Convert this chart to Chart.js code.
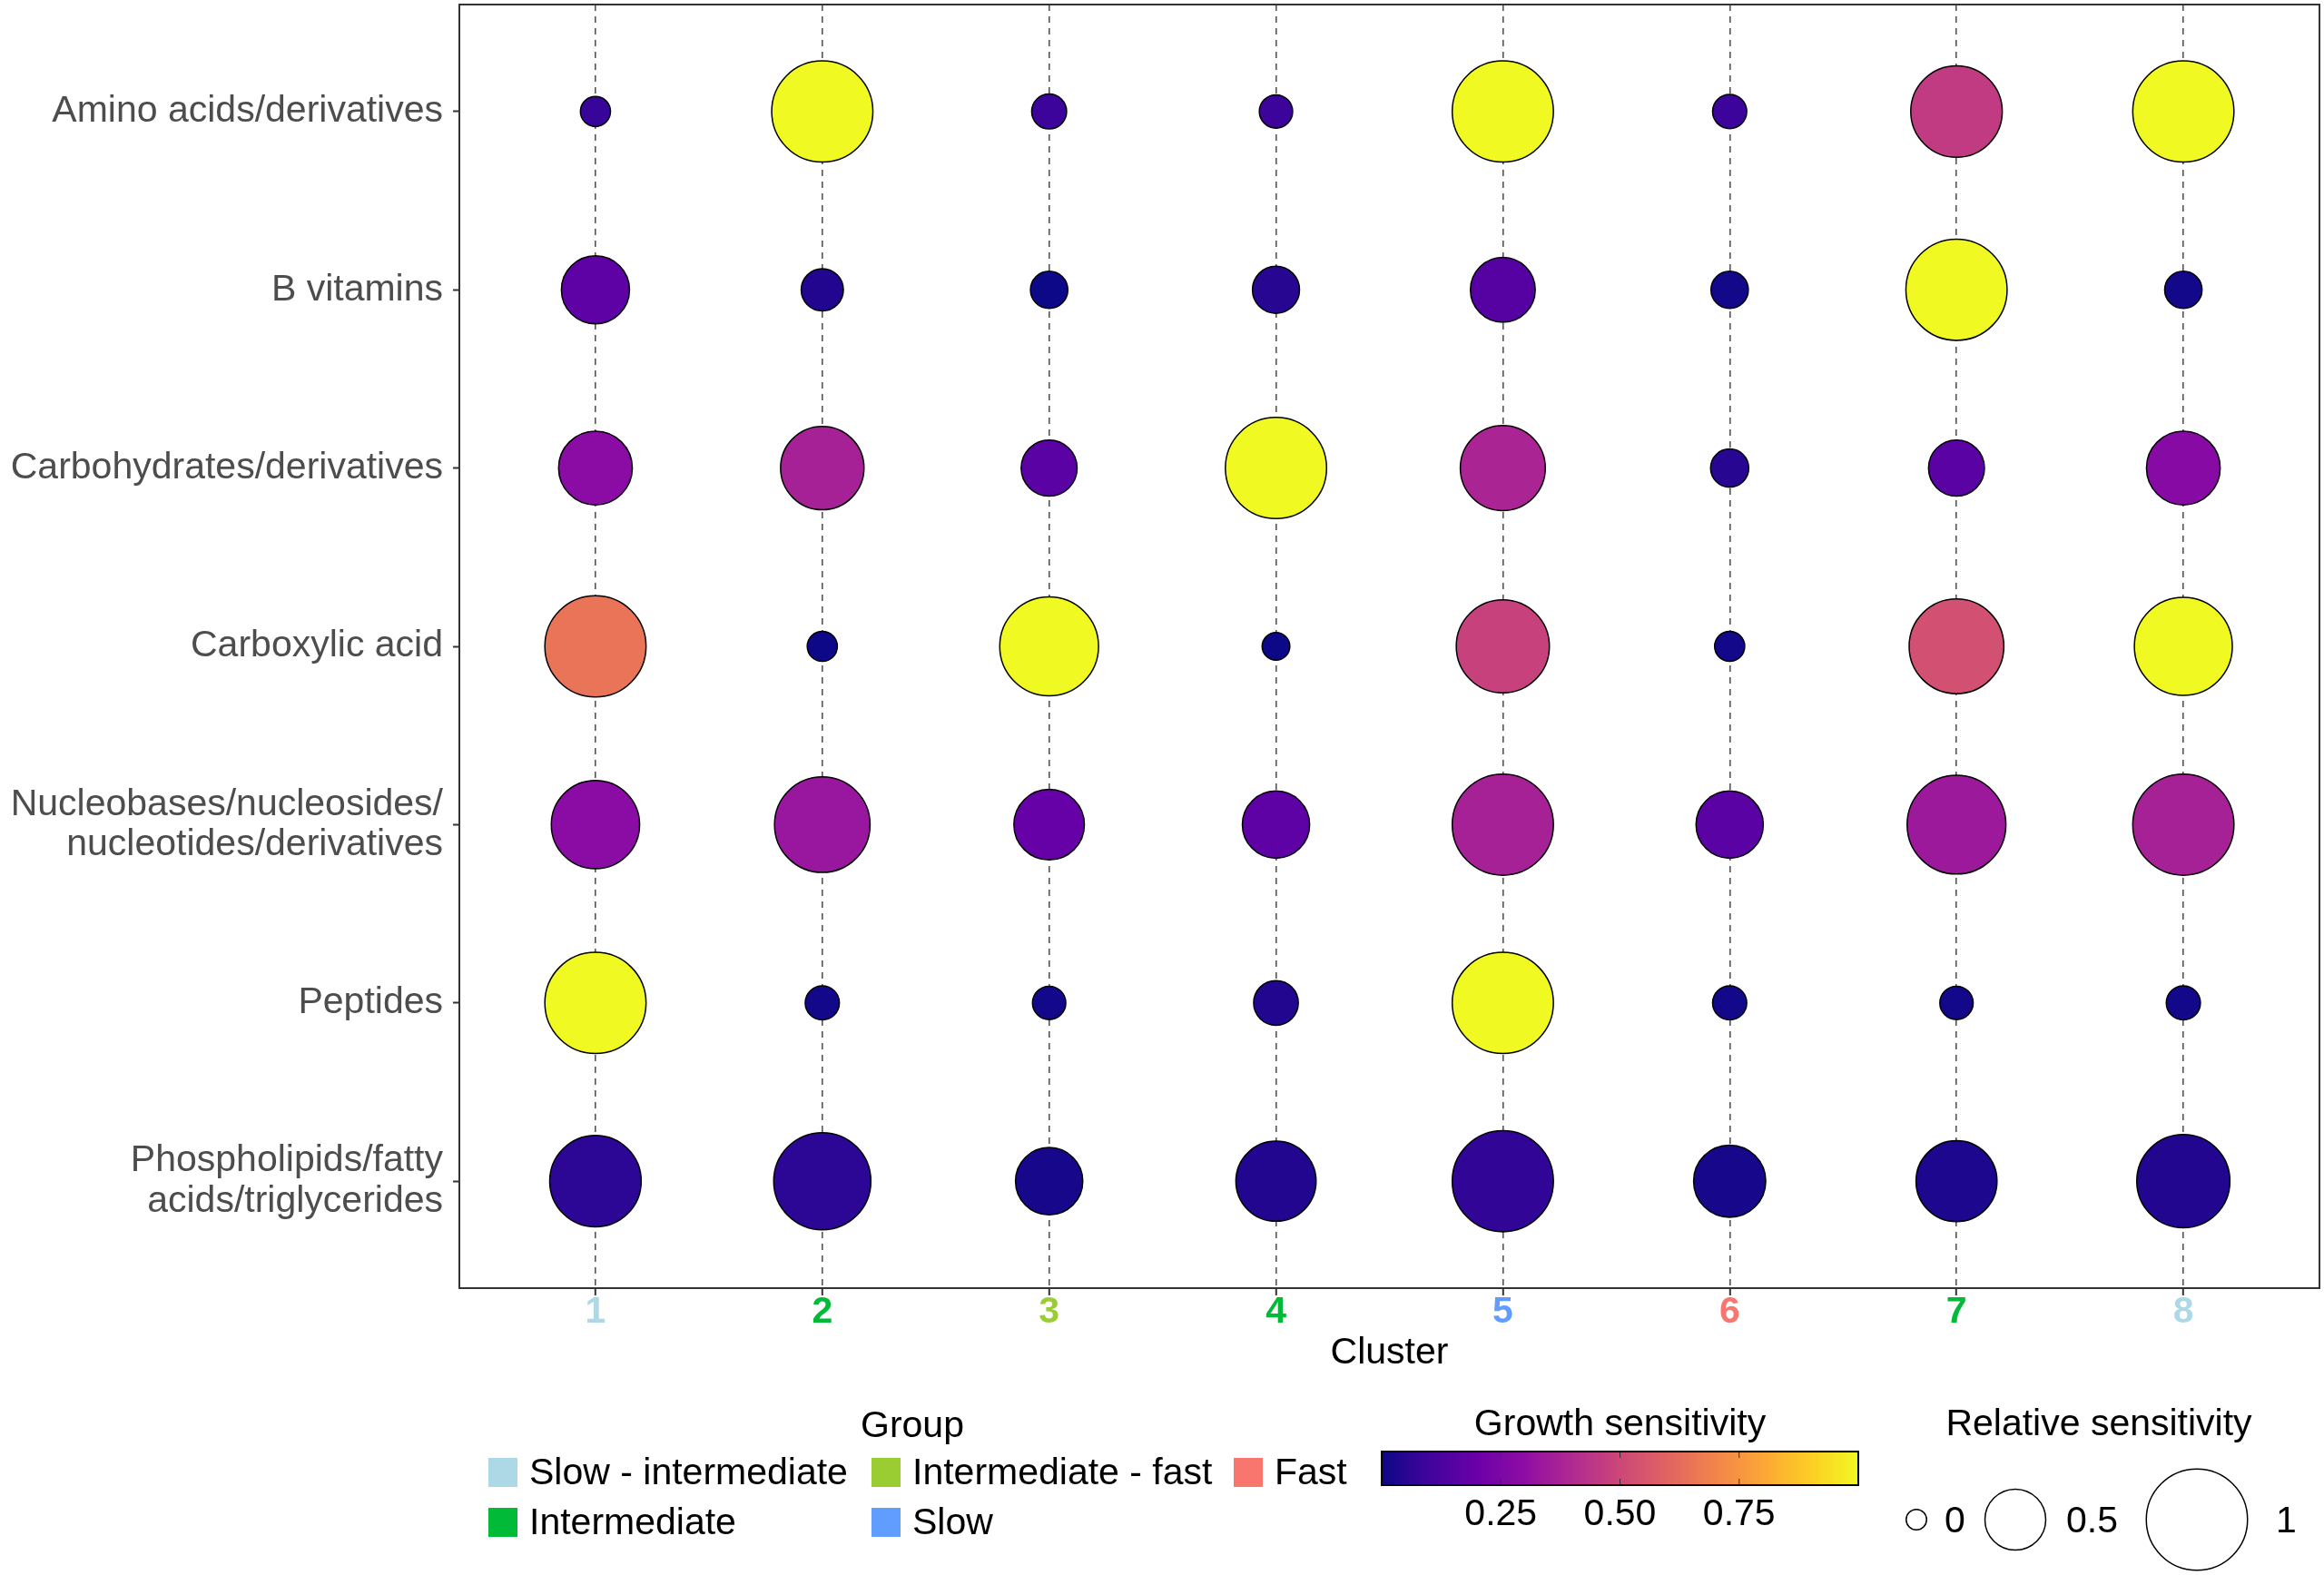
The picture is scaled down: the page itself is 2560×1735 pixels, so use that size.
<!DOCTYPE html>
<html>
<head>
<meta charset="utf-8">
<title>Growth sensitivity by cluster</title>
<script src="https://cdn.jsdelivr.net/npm/chart.js@4.4.1/dist/chart.umd.min.js"></script>
<style>
  html, body { margin: 0; padding: 0; background: #fff; }
</style>
</head>
<body>
<canvas id="bubbleChart" width="2560" height="1735"></canvas>
<script>
// ---- data (rows top to bottom, columns = clusters 1..8) ----
const categories = [
    'Amino acids/derivatives',
    'B vitamins',
    'Carbohydrates/derivatives',
    'Carboxylic acid',
    ['Nucleobases/nucleosides/', 'nucleotides/derivatives'],
    'Peptides',
    ['Phospholipids/fatty', 'acids/triglycerides']
];
const clusters = ['1', '2', '3', '4', '5', '6', '7', '8'];
const clusterGroups = ['Slow - intermediate', 'Intermediate', 'Intermediate - fast', 'Intermediate',
    'Slow', 'Fast', 'Intermediate', 'Slow - intermediate'];

// group legend, level order (filled column by column, 2 rows)
const groupNames = ['Slow - intermediate', 'Intermediate', 'Intermediate - fast', 'Slow', 'Fast'];
const groupColors = ['#ADD8E6', '#00BA38', '#9ACD32', '#619CFF', '#F8766D'];

// relative sensitivity -> bubble size
const relAmino   = [0.12, 1.00, 0.18, 0.16, 1.00, 0.17, 0.88, 1.00];
const relBvit    = [0.59, 0.27, 0.21, 0.33, 0.55, 0.21, 1.00, 0.21];
const relCarbo   = [0.66, 0.78, 0.44, 1.00, 0.80, 0.22, 0.44, 0.66];
const relCarbox  = [1.00, 0.12, 0.97, 0.09, 0.90, 0.12, 0.92, 0.96];
const relNucleo  = [0.84, 0.93, 0.62, 0.58, 1.00, 0.58, 0.97, 1.00];
const relPeptide = [1.00, 0.17, 0.16, 0.30, 1.00, 0.17, 0.16, 0.17];
const relPhospho = [0.88, 0.95, 0.58, 0.74, 1.00, 0.64, 0.75, 0.90];

// growth sensitivity -> bubble colour
const grAmino   = [0.08, 1.00, 0.09, 0.09, 1.00, 0.09, 0.46, 1.00];
const grBvit    = [0.17, 0.04, 0.00, 0.05, 0.15, 0.01, 1.00, 0.01];
const grCarbo   = [0.29, 0.37, 0.16, 1.00, 0.38, 0.05, 0.16, 0.28];
const grCarbox  = [0.65, 0.00, 1.00, 0.00, 0.48, 0.01, 0.53, 1.00];
const grNucleo  = [0.29, 0.33, 0.19, 0.17, 0.37, 0.16, 0.34, 0.37];
const grPeptide = [1.00, 0.01, 0.01, 0.04, 1.00, 0.01, 0.01, 0.01];
const grPhospho = [0.06, 0.06, 0.02, 0.04, 0.07, 0.02, 0.03, 0.04];

const relativeSensitivity = [relAmino, relBvit, relCarbo, relCarbox, relNucleo, relPeptide, relPhospho];
const growthSensitivity = [grAmino, grBvit, grCarbo, grCarbox, grNucleo, grPeptide, grPhospho];

const colorbarTicks = [0.25, 0.5, 0.75];
const sizeBreaks = [0, 0.5, 1];
const sizeBreakLabels = ['0', '0.5', '1'];

// ---- helpers ----
const FONT = '"Liberation Sans", Arial, Helvetica, sans-serif';
Chart.defaults.font.family = FONT;

const plasma = ['#0d0887', '#41049d', '#6a00a8', '#8f0da4', '#b12a90', '#cc4778',
    '#e16462', '#f2844b', '#fca636', '#fcce25', '#f0f921'];

function hexToRgb(h) {
    return [parseInt(h.slice(1, 3), 16), parseInt(h.slice(3, 5), 16), parseInt(h.slice(5, 7), 16)];
}

function plasmaColor(v) {
    v = Math.max(0, Math.min(1, v));
    const pos = v * (plasma.length - 1);
    const i = Math.min(Math.floor(pos), plasma.length - 2);
    const t = pos - i;
    const a = hexToRgb(plasma[i]), b = hexToRgb(plasma[i + 1]);
    const c = a.map((x, k) => Math.round(x + (b[k] - x) * t));
    return `rgb(${c[0]}, ${c[1]}, ${c[2]})`;
}

function sizeToRadius(v) {
    return 11.25 + 44.5 * v;
}

const points = [];
categories.forEach((cat, row) => {
    clusters.forEach((cl, col) => {
        points.push({
            x: col + 1,
            y: row + 1,
            size: relativeSensitivity[row][col],
            growth: growthSensitivity[row][col]
        });
    });
});

// ---- panel border + legends ----
const panelAndLegends = {
    id: 'panelAndLegends',
    afterDraw(chart) {
        const ctx = chart.ctx;
        const area = chart.chartArea;
        ctx.save();
        ctx.strokeStyle = '#333';
        ctx.lineWidth = 2;
        ctx.strokeRect(area.left, area.top, area.right - area.left, area.bottom - area.top);

        ctx.fillStyle = '#000';
        ctx.font = `41px ${FONT}`;
        ctx.textBaseline = 'middle';

        // Group legend
        ctx.textAlign = 'center';
        ctx.fillText('Group', 1005, 1572);
        const colX = [538, 960, 1359];
        const rowY = [1622, 1677];
        ctx.textAlign = 'left';
        groupNames.forEach((name, i) => {
            const c = Math.floor(i / 2), r = i % 2;
            ctx.fillStyle = groupColors[i];
            ctx.fillRect(colX[c], rowY[r] - 16, 32, 32);
            ctx.fillStyle = '#000';
            ctx.fillText(name, colX[c] + 45, rowY[r] + 2);
        });

        // Growth sensitivity colour bar
        const barL = 1522, barR = 2047, barT = 1599, barB = 1636;
        ctx.textAlign = 'center';
        ctx.fillText('Growth sensitivity', (barL + barR) / 2, 1570);
        const grad = ctx.createLinearGradient(barL, 0, barR, 0);
        for (let k = 0; k <= 50; k++) grad.addColorStop(k / 50, plasmaColor(k / 50));
        ctx.fillStyle = grad;
        ctx.fillRect(barL, barT, barR - barL, barB - barT);
        ctx.strokeStyle = '#333';
        ctx.lineWidth = 1;
        colorbarTicks.forEach(t => {
            const x = barL + t * (barR - barL);
            ctx.beginPath();
            ctx.moveTo(x, barT); ctx.lineTo(x, barT + 7);
            ctx.moveTo(x, barB); ctx.lineTo(x, barB - 7);
            ctx.stroke();
        });
        ctx.strokeStyle = '#000';
        ctx.lineWidth = 2;
        ctx.strokeRect(barL, barT, barR - barL, barB - barT);
        ctx.fillStyle = '#000';
        colorbarTicks.forEach(t => {
            ctx.fillText(t.toFixed(2), barL + t * (barR - barL), 1669);
        });

        // Relative sensitivity size legend
        ctx.fillText('Relative sensitivity', 2312, 1570);
        const circX = [2111, 2220, 2420];
        const labX = [2142, 2276, 2507];
        ctx.textAlign = 'left';
        sizeBreaks.forEach((s, i) => {
            ctx.beginPath();
            ctx.arc(circX[i], 1674, sizeToRadius(s), 0, Math.PI * 2);
            ctx.fillStyle = '#fff';
            ctx.fill();
            ctx.strokeStyle = '#000';
            ctx.lineWidth = 1.5;
            ctx.stroke();
            ctx.fillStyle = '#000';
            ctx.fillText(sizeBreakLabels[i], labX[i], 1677);
        });
        ctx.restore();
    }
};

const ctx = document.getElementById('bubbleChart');
new Chart(ctx, {
    type: 'bubble',
    data: {
        datasets: [{
            label: 'Growth sensitivity',
            data: points,
            radius: c => sizeToRadius(c.raw.size),
            backgroundColor: c => plasmaColor(c.raw.growth),
            borderColor: '#000',
            borderWidth: 1.5
        }]
    },
    options: {
        responsive: false,
        animation: false,
        events: [],
        layout: { autoPadding: false, padding: { left: 0, top: 5, right: 5, bottom: 220 } },
        plugins: {
            legend: { display: false },
            tooltip: { enabled: false }
        },
        scales: {
            x: {
                type: 'linear',
                position: 'bottom',
                min: 0.4,
                max: 8.6,
                afterBuildTicks: scale => {
                    scale.ticks = clusters.map((c, i) => ({ value: i + 1 }));
                },
                afterFit: scale => {
                    scale.height = 96;
                    scale.paddingLeft = 0;
                    scale.paddingRight = 0;
                },
                ticks: {
                    autoSkip: false,
                    maxRotation: 0,
                    padding: -2,
                    font: { size: 41, weight: 'bold', lineHeight: 1 },
                    color: c => {
                        const g = clusterGroups[c.index];
                        return groupColors[groupNames.indexOf(g)];
                    },
                    callback: v => clusters[v - 1]
                },
                grid: {
                    color: '#555',
                    lineWidth: 1.6,
                    drawTicks: true,
                    tickLength: 8,
                    tickColor: '#333',
                    tickWidth: 2,
                    tickBorderDash: []
                },
                border: { display: false, dash: [7, 6] },
                title: {
                    display: true,
                    text: 'Cluster',
                    color: '#000',
                    font: { size: 41, lineHeight: 1.2 },
                    padding: { top: 0, bottom: 0 }
                }
            },
            y: {
                type: 'linear',
                reverse: true,
                min: 0.4,
                max: 7.6,
                afterBuildTicks: scale => {
                    scale.ticks = categories.map((c, i) => ({ value: i + 1 }));
                },
                afterFit: scale => {
                    scale.width = 506;
                    scale.paddingTop = 0;
                    scale.paddingBottom = 0;
                },
                ticks: {
                    autoSkip: false,
                    padding: 11,
                    font: { size: 41, lineHeight: 1.08 },
                    color: '#4d4d4d',
                    callback: v => categories[v - 1]
                },
                grid: {
                    drawOnChartArea: false,
                    drawTicks: true,
                    tickLength: 7,
                    tickColor: '#333',
                    tickWidth: 2
                },
                border: { display: false }
            }
        }
    },
    plugins: [panelAndLegends]
});
</script>
</body>
</html>
